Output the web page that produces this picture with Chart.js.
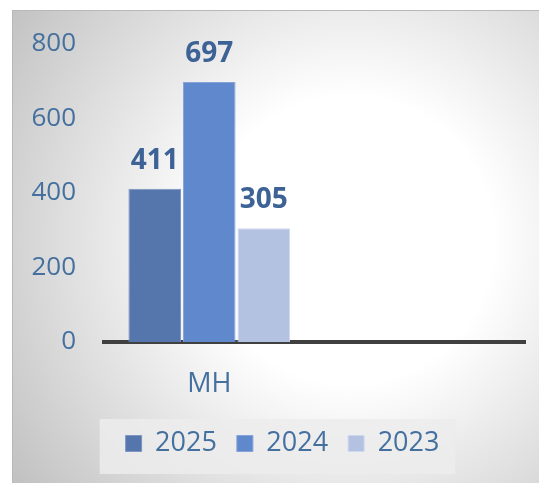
<!DOCTYPE html>
<html>
<head>
<meta charset="utf-8">
<script src="https://cdn.jsdelivr.net/npm/chart.js@4.4.1/dist/chart.umd.min.js"></script>
<style>
  html, body { margin: 0; padding: 0; background: #ffffff; }
  #wrap { width: 539px; height: 483px; }
</style>
</head>
<body>
<div id="wrap"><canvas id="chart" width="539" height="483"></canvas></div>
<script>
// data
const categories = ['MH', ''];
const seriesNames = ['2025', '2024', '2023'];
const values2025 = [411, null];
const values2024 = [697, null];
const values2023 = [305, null];
const yTicks = [0, 200, 400, 600, 800];

const barColors = ['#5575ad', '#6088cc', '#b4c2e2'];
const barEdges = ['#7d95c2', '#86a2d9', '#cfd9ee'];
const textBlue = '#44709f';
const labelBlue = '#3d6396';
const fontFamily = '"Open Sans", "Liberation Sans", sans-serif';

// panel background: radial gray-to-white fill, thin border, legend plate
const panelBackground = {
  id: 'panelBackground',
  afterLayout(chart) {
    // nudge the legend to the right, like the original
    chart.legend.left += 20;
    chart.legend.right += 20;
  },
  beforeDraw(chart) {
    const ctx = chart.ctx;
    ctx.save();
    const g = ctx.createRadialGradient(350, 240, 0, 350, 240, 410);
    g.addColorStop(0, '#ffffff');
    g.addColorStop(0.35, '#ffffff');
    g.addColorStop(1, '#c2c2c2');
    ctx.fillStyle = g;
    ctx.fillRect(12, 10, chart.width - 12, chart.height - 10);
    ctx.strokeStyle = '#b8b8b8';
    ctx.lineWidth = 1;
    ctx.beginPath();
    ctx.moveTo(12.5, chart.height);
    ctx.lineTo(12.5, 10.5);
    ctx.lineTo(chart.width, 10.5);
    ctx.stroke();

    const hb = chart.legend.legendHitBoxes;
    if (hb && hb.length) {
      const last = hb[hb.length - 1];
      const left = hb[0].left - 26;
      const right = last.left + last.width + 16;
      const top = hb[0].top - 11;
      ctx.fillStyle = 'rgba(236,236,236,0.85)';
      ctx.fillRect(left, top, right - left, 55);
    }
    ctx.restore();
  }
};

// value labels above each bar
const valueLabels = {
  id: 'valueLabels',
  afterDatasetsDraw(chart) {
    const ctx = chart.ctx;
    ctx.save();
    ctx.font = 'bold 28px ' + fontFamily;
    ctx.fillStyle = labelBlue;
    ctx.textAlign = 'center';
    ctx.textBaseline = 'alphabetic';
    chart.data.datasets.forEach((ds, i) => {
      const meta = chart.getDatasetMeta(i);
      meta.data.forEach((bar, j) => {
        const v = ds.data[j];
        if (v === null || v === undefined) return;
        ctx.fillText(String(v), bar.x, bar.y - 20);
      });
    });
    ctx.restore();
  }
};

new Chart(document.getElementById('chart').getContext('2d'), {
  type: 'bar',
  data: {
    labels: categories,
    datasets: [
      { label: seriesNames[0], data: values2025, backgroundColor: barColors[0], borderColor: barEdges[0] },
      { label: seriesNames[1], data: values2024, backgroundColor: barColors[1], borderColor: barEdges[1] },
      { label: seriesNames[2], data: values2023, backgroundColor: barColors[2], borderColor: barEdges[2] }
    ].map(ds => Object.assign(ds, {
      borderWidth: 1,
      categoryPercentage: 0.777,
      barPercentage: 0.965
    }))
  },
  options: {
    responsive: false,
    animation: false,
    events: [],
    layout: { padding: { top: 39, right: 14, bottom: 16, left: 0 } },
    plugins: {
      tooltip: { enabled: false },
      title: { display: false },
      legend: {
        display: true,
        position: 'bottom',
        labels: {
          boxWidth: 16,
          boxHeight: 16,
          padding: 20,
          color: textBlue,
          font: { family: fontFamily, size: 27 }
        }
      }
    },
    scales: {
      x: {
        grid: { display: false, drawTicks: false },
        border: { display: true, color: '#404040', width: 4 },
        ticks: {
          color: textBlue,
          padding: 26,
          font: { family: fontFamily, size: 27 }
        },
        afterFit(scale) { scale.height = 68; }
      },
      y: {
        min: 0,
        max: 800,
        grid: { display: false, drawTicks: false },
        border: { display: false },
        afterBuildTicks(scale) { scale.ticks = yTicks.map(v => ({ value: v })); },
        ticks: {
          color: textBlue,
          padding: 28,
          font: { family: fontFamily, size: 26 }
        },
        afterFit(scale) { scale.width = 104; }
      }
    }
  },
  plugins: [panelBackground, valueLabels]
});
</script>
</body>
</html>
